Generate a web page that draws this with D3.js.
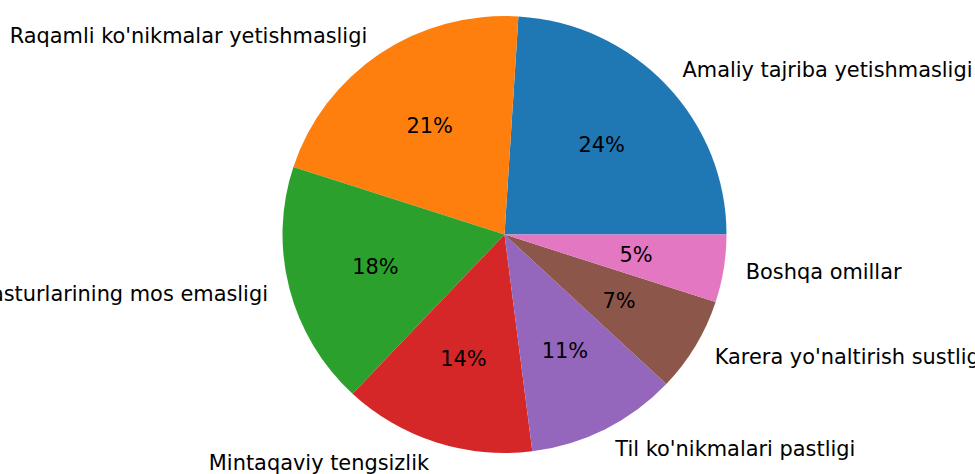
<!DOCTYPE html>
<html>
<head>
<meta charset="utf-8">
<script src="https://cdn.jsdelivr.net/npm/d3@7"></script>
<style>
  body { margin: 0; background: #fff; }
  svg { display: block; }
  text { font-family: "DejaVu Sans", sans-serif; font-size: 20.9px; fill: #000; }
</style>
</head>
<body>
<div id="container"></div>
<script>
const canvasWidth = 975;
const canvasHeight = 474;

// pie data
let labels = [
  'Amaliy tajriba yetishmasligi',
  "Raqamli ko'nikmalar yetishmasligi",
  "Ta'lim dasturlarining mos emasligi",
  'Mintaqaviy tengsizlik',
  "Til ko'nikmalari pastligi",
  "Karera yo'naltirish sustligi",
  'Boshqa omillar'
];
let values = [24, 21, 18, 14, 11, 7, 5];
let colors = ['#1f77b4', '#ff7f0e', '#2ca02c', '#d62728', '#9467bd', '#8c564b', '#e377c2'];

// pie geometry (slightly squashed vertically like the picture)
let cx = 504.5;
let cy = 234.5;
let rx = 222;
let ry = 218.5;
let yScale = ry / rx;

let svg = d3.select('#container')
  .append('svg')
  .attr('width', canvasWidth)
  .attr('height', canvasHeight);

svg.append('rect')
  .attr('width', canvasWidth)
  .attr('height', canvasHeight)
  .attr('fill', '#fff');

// matplotlib starts at 3 o'clock and goes counter-clockwise
let pie = d3.pie()
  .sort(null)
  .value(d => d.value)
  .startAngle(Math.PI / 2)
  .endAngle(Math.PI / 2 - 2 * Math.PI);

let data = values.map((v, i) => ({value: v, label: labels[i], color: colors[i]}));
let arcs = pie(data);

let arc = d3.arc().innerRadius(0).outerRadius(rx);

let viz = svg.append('g')
  .attr('transform', 'translate(' + cx + ',' + cy + ')');

viz.append('g')
  .attr('transform', 'scale(1,' + yScale + ')')
  .selectAll('path')
  .data(arcs)
  .enter()
  .append('path')
  .attr('d', arc)
  .attr('fill', d => d.data.color);

function midAngle(d) {
  return (d.startAngle + d.endAngle) / 2;
}

function spot(d, k) {
  let a = midAngle(d);
  return [Math.sin(a) * rx * k, -Math.cos(a) * rx * k * yScale];
}

// outer labels
viz.selectAll('.label')
  .data(arcs)
  .enter()
  .append('text')
  .attr('class', 'label')
  .attr('x', d => spot(d, 1.1)[0])
  .attr('y', d => spot(d, 1.1)[1])
  .attr('dy', '0.33em')
  .attr('text-anchor', d => spot(d, 1.1)[0] >= 0 ? 'start' : 'end')
  .text(d => d.data.label);

// percentages
let total = d3.sum(values);
viz.selectAll('.pct')
  .data(arcs)
  .enter()
  .append('text')
  .attr('class', 'pct')
  .attr('x', d => spot(d, 0.6)[0])
  .attr('y', d => spot(d, 0.6)[1])
  .attr('dy', '0.33em')
  .attr('text-anchor', 'middle')
  .text(d => Math.round(d.data.value / total * 100) + '%');
</script>
</body>
</html>
